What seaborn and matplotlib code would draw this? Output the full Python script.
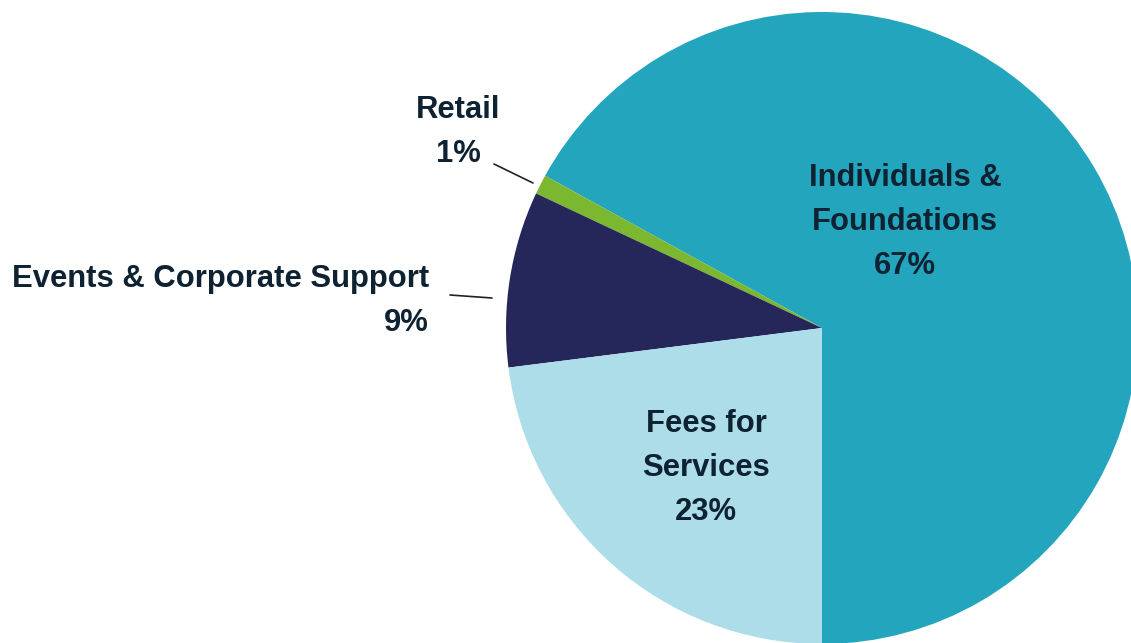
import matplotlib
matplotlib.use("Agg")
import matplotlib.pyplot as plt
import seaborn as sns

# data
categories = ["Individuals &\nFoundations", "Retail", "Events & Corporate Support", "Fees for\nServices"]
shares = [67, 1, 9, 23]
colors = ["#24a5be", "#7cb82f", "#25265a", "#addde9"]

sns.set_theme(style="white")
plt.rcParams["font.family"] = ["Liberation Sans", "DejaVu Sans"]

W, H = 1131, 643
cx, cy, R = 822, 328, 316  # pie centre / radius in pixels


def px(x, y):
    # pixel position (from top-left) -> data coords of the pie
    return (x - cx) / R, (cy - y) / R


fig = plt.figure(figsize=(W / 100, H / 100), dpi=100)
ax = fig.add_axes([0, 0, 1, 1])

palette = sns.color_palette(colors)
ax.pie(shares, colors=palette, startangle=-90, counterclock=True,
       radius=1, center=(0, 0), wedgeprops=dict(linewidth=0))

ax.set_xlim(-cx / R, (W - cx) / R)
ax.set_ylim(-(H - cy) / R, cy / R)
ax.set_aspect("auto")
ax.axis("off")

txt = dict(fontsize=22.3, fontweight="bold", color="#0e2232", linespacing=1.6)

# inside labels
ax.text(*px(905, 222), f"{categories[0]}\n{shares[0]}%", ha="center", va="center", **txt)
ax.text(*px(706, 468), f"{categories[3]}\n{shares[3]}%", ha="center", va="center", **txt)

# outside labels with leader lines
ax.text(*px(458, 132), f"{categories[1]}\n{shares[1]}%", ha="center", va="center", **txt)
ax.plot(*zip(px(494, 164), px(533, 183)), color="#222222", lw=1.2)

ax.text(*px(429, 301), f"{categories[2]}\n{shares[2]}%", ha="right", va="center",
        multialignment="right", **txt)
ax.plot(*zip(px(450, 295), px(492, 298)), color="#222222", lw=1.2)

fig.savefig("out.png", dpi=100)
